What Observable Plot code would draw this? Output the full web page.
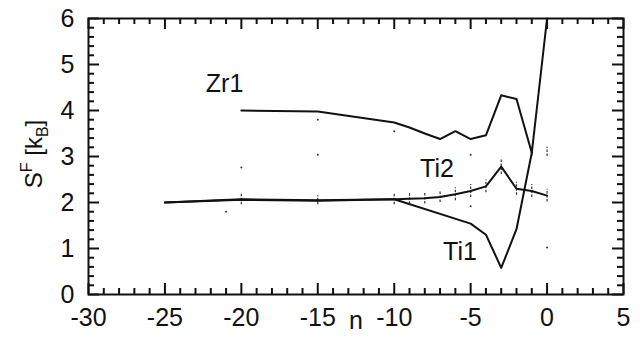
<!DOCTYPE html>
<html><head><meta charset="utf-8">
<script src="https://cdn.jsdelivr.net/npm/d3@7"></script>
<script src="https://cdn.jsdelivr.net/npm/@observablehq/plot@0.6"></script>
<style>body{margin:0;background:#fff} svg{display:block}</style>
</head><body><div id="chart"></div>
<script>
// Series data
const zr1N = [-20, -15, -10, -9, -8, -7, -6, -5, -4, -3, -2, -1];
const zr1S = [4.0, 3.98, 3.74, 3.63, 3.5, 3.38, 3.55, 3.38, 3.46, 4.33, 4.25, 3.08];
const ti2N = [-25, -20, -15, -10, -9, -8, -7, -6, -5, -4, -3, -2, -1, 0];
const ti2S = [2.0, 2.07, 2.05, 2.07, 2.08, 2.09, 2.12, 2.18, 2.25, 2.35, 2.78, 2.3, 2.25, 2.15];
const ti1N = [-25, -20, -15, -10, -5, -4, -3, -2, -1, 0];
const ti1S = [2.0, 2.06, 2.04, 2.07, 1.54, 1.3, 0.58, 1.42, 3.08, 6.0];
// Error bars (dashed) on Ti2 and Zr1
const errN = [-20, -15, -10, -9, -8, -7, -6, -5, -4, -3, -2, -1, 0, -1, 0];
const errS = [2.07, 2.05, 2.07, 2.08, 2.09, 2.12, 2.18, 2.25, 2.35, 2.78, 2.3, 2.25, 2.15, 3.1, 3.1];
const errE = [0.12, 0.1, 0.12, 0.12, 0.12, 0.12, 0.14, 0.14, 0.14, 0.17, 0.14, 0.14, 0.14, 0.1, 0.1];
// scattered stray points
const dotN = [-20, -15, -15, -10, -5, 0, -5, -21];
const dotS = [2.76, 3.8, 3.04, 3.55, 3.04, 1.02, 1.92, 1.8];
// Labels
const labText = ["Zr1", "Ti2", "Ti1"];
const labN = [-21.1, -7.2, -5.7];
const labS = [4.57, 2.73, 0.93];
// Axis ticks
const xMajor = [-30, -25, -20, -15, -10, -5, 0, 5];
const yMajor = [0, 1, 2, 3, 4, 5, 6];
const xMinor = d3.range(-30, 5.01, 1).filter(v => !xMajor.includes(v));
const yMinor = d3.range(0, 6.01, 0.2).map(v => +v.toFixed(1)).filter(v => !yMajor.includes(v));

const W = 640, H = 341, mL = 88, mR = 17, mT = 18, mB = 47;
const pW = W - mL - mR, pH = H - mT - mB;

const toRows = (N, S) => N.map((n, i) => ({n, s: S[i]}));
const err = errN.map((n, i) => ({n, lo: errS[i] - errE[i], hi: errS[i] + errE[i]}));
const dots = dotN.map((n, i) => ({n, s: dotS[i]}));
const labs = labText.map((t, i) => ({t, n: labN[i], s: labS[i]}));
const fmt = d => `${d}`;

const chart = Plot.plot({
  width: W, height: H,
  marginLeft: mL, marginRight: mR, marginTop: mT, marginBottom: mB,
  x: {domain: [-30, 5]},
  y: {domain: [0, 6]},
  style: {fontFamily: "'Liberation Sans', Arial, sans-serif", fontSize: "25px", color: "#111", background: "#fff"},
  marks: [
    Plot.ruleX(xMinor, {x: d => d, insetTop: pH - 6, stroke: "#111", strokeWidth: 2}),
    Plot.ruleX(xMinor, {x: d => d, insetBottom: pH - 6, stroke: "#111", strokeWidth: 2}),
    Plot.ruleX(xMajor, {x: d => d, insetTop: pH - 11, stroke: "#111", strokeWidth: 2}),
    Plot.ruleX(xMajor, {x: d => d, insetBottom: pH - 11, stroke: "#111", strokeWidth: 2}),
    Plot.ruleY(yMinor, {y: d => d, insetRight: pW - 6, stroke: "#111", strokeWidth: 2}),
    Plot.ruleY(yMinor, {y: d => d, insetLeft: pW - 6, stroke: "#111", strokeWidth: 2}),
    Plot.ruleY(yMajor, {y: d => d, insetRight: pW - 11, stroke: "#111", strokeWidth: 2}),
    Plot.ruleY(yMajor, {y: d => d, insetLeft: pW - 11, stroke: "#111", strokeWidth: 2}),
    Plot.frame({stroke: "#111", strokeWidth: 2}),
    Plot.axisX(xMajor, {tickSize: 0, tickPadding: 14, label: null, tickFormat: fmt}),
    Plot.axisY(yMajor, {tickSize: 0, tickPadding: 14, label: null, tickFormat: fmt}),
    Plot.text(["n"], {frameAnchor: "bottom", dy: 34, text: d => d, fontSize: 25, fill: "#111"}),
    Plot.ruleX(err, {x: "n", y1: "lo", y2: "hi", stroke: "#333", strokeWidth: 1.2, strokeDasharray: "2.5,1.5"}),
    Plot.dot(dots, {x: "n", y: "s", r: 1, fill: "#333", stroke: "none"}),
    Plot.line(toRows(ti1N, ti1S), {x: "n", y: "s", stroke: "#111", strokeWidth: 2}),
    Plot.line(toRows(ti2N, ti2S), {x: "n", y: "s", stroke: "#111", strokeWidth: 2}),
    Plot.line(toRows(zr1N, zr1S), {x: "n", y: "s", stroke: "#111", strokeWidth: 2}),
    Plot.text(labs, {x: "n", y: "s", text: "t", fontSize: 25, fill: "#111"})
  ]
});
document.getElementById("chart").appendChild(chart);

const svg = d3.select(chart);
// y-axis label with superscript and subscript
const lab = svg.append("text")
  .attr("transform", `translate(42, ${mT + pH / 2 - 2}) rotate(-90)`)
  .attr("text-anchor", "middle")
  .attr("font-family", "'Liberation Sans', Arial, sans-serif")
  .attr("font-size", 24)
  .attr("fill", "#111");
lab.append("tspan").text("S");
lab.append("tspan").attr("font-size", 16).attr("dy", -10).text("F");
lab.append("tspan").attr("dy", 10).text(" [k");
lab.append("tspan").attr("font-size", 16).attr("dy", 6).text("B");
lab.append("tspan").attr("dy", -6).text("]");
</script>
</body></html>
